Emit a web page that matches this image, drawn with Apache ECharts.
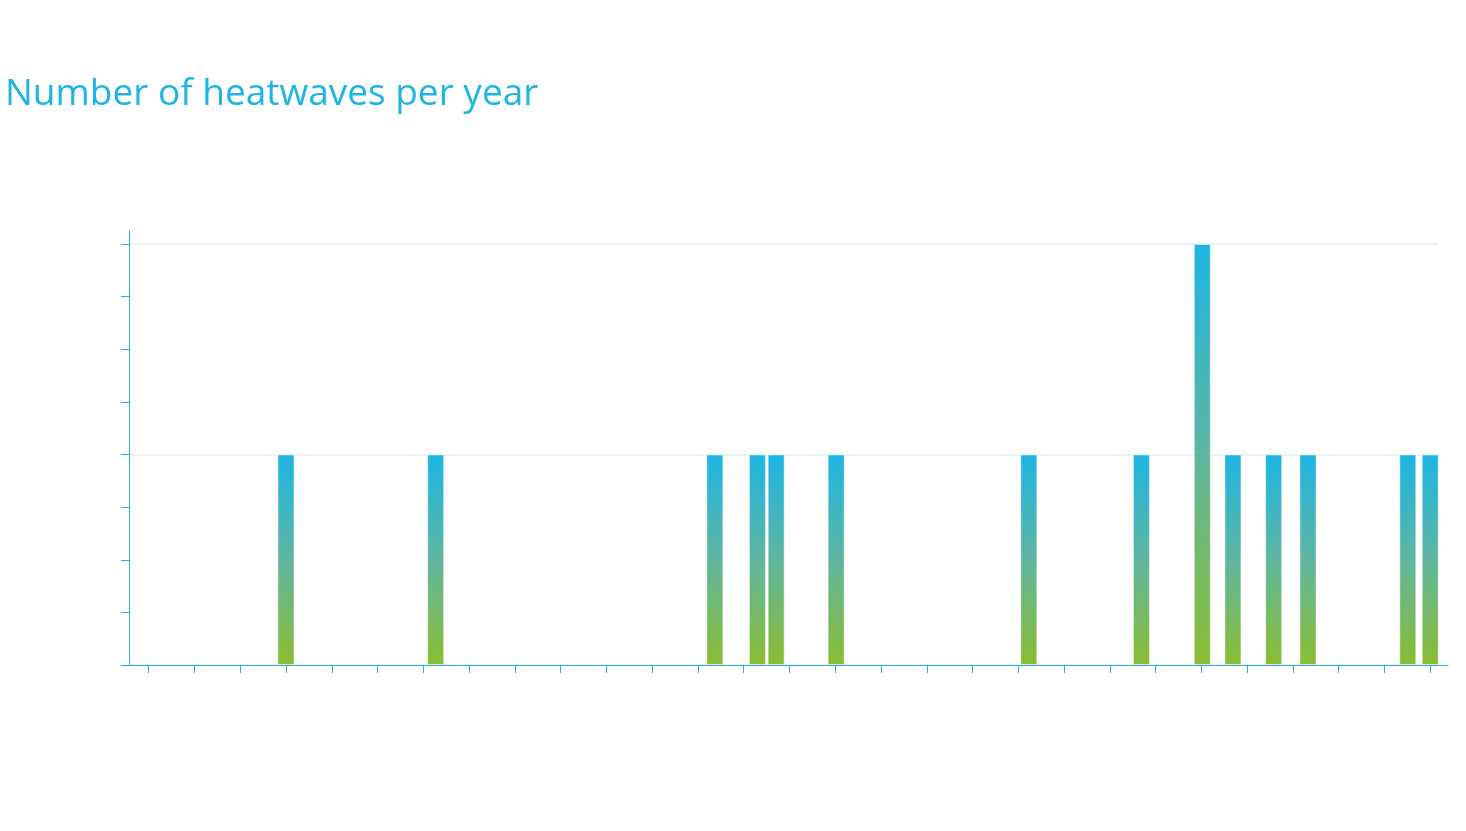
<!DOCTYPE html>
<html>
<head>
<meta charset="utf-8">
<script src="https://cdn.jsdelivr.net/npm/echarts@6/dist/echarts.min.js"></script>
<style>
html,body{margin:0;padding:0;background:#fff;}
#chart{width:1466px;height:831px;}
</style>
</head>
<body>
<div id="chart"></div>
<script>
// x positions in tick units (tick 0 .. tick 28)
var eventPositions = [3.0, 6.27, 12.37, 13.30, 13.71, 15.02, 19.23, 21.69, 23.02, 23.69, 24.58, 25.33, 27.51, 28.0];
var heatwaveCounts = [1, 1, 1, 1, 1, 1, 1, 1, 2, 1, 1, 1, 1, 1];
var xTicks = [0,1,2,3,4,5,6,7,8,9,10,11,12,13,14,15,16,17,18,19,20,21,22,23,24,25,26,27,28];

var data = eventPositions.map(function (x, i) { return [x, heatwaveCounts[i]]; });

var axisBlue = '#2aafd9';
var chart = echarts.init(document.getElementById('chart'));
chart.setOption({
  animation: false,
  title: {
    text: 'Number of heatwaves per year',
    left: 0,
    top: 71,
    textStyle: { color: '#1fb5e3', fontSize: 37, fontWeight: 'normal', fontFamily: 'Open Sans' }
  },
  grid: [
    { left: 129, right: 28, top: 244, bottom: 166 },
    { left: 129, right: 18, top: 231, bottom: 166 }
  ],
  xAxis: [
    {
      type: 'value', gridIndex: 0,
      min: -0.4304, max: 28.17,
      axisLine: { show: false, onZero: false },
      axisTick: { show: true, length: 8, customValues: xTicks, lineStyle: { color: axisBlue, width: 1 } },
      axisLabel: { show: false },
      splitLine: { show: false }
    },
    {
      type: 'value', gridIndex: 1, min: 0, max: 1, z: 5,
      axisLine: { show: true, onZero: false, lineStyle: { color: axisBlue, width: 1 } },
      axisTick: { show: false }, axisLabel: { show: false }, splitLine: { show: false }
    }
  ],
  yAxis: [
    {
      type: 'value', gridIndex: 0,
      min: 0, max: 2, interval: 1,
      axisLine: { show: false, onZero: false },
      axisTick: { show: true, length: 8, lineStyle: { color: axisBlue, width: 1 } },
      minorTick: { show: true, splitNumber: 4, length: 8, lineStyle: { color: axisBlue, width: 1 } },
      axisLabel: { show: false },
      splitLine: { show: true, lineStyle: { color: '#e3f1f5', width: 1.5 } },
      minorSplitLine: { show: false }
    },
    {
      type: 'value', gridIndex: 1, min: 0, max: 1, z: 5,
      axisLine: { show: true, onZero: false, lineStyle: { color: axisBlue, width: 1 } },
      axisTick: { show: false }, axisLabel: { show: false }, splitLine: { show: false }
    }
  ],
  series: [{
    type: 'bar',
    xAxisIndex: 0, yAxisIndex: 0,
    data: data,
    barWidth: 17,
    clip: false,
    itemStyle: {
      borderColor: 'rgba(255,255,255,0.45)',
      borderWidth: 1,
      color: new echarts.graphic.LinearGradient(0, 0, 0, 1, [
        { offset: 0, color: '#1db5e4' },
        { offset: 0.5, color: '#5fb6a0' },
        { offset: 1, color: '#8abd31' }
      ])
    }
  }]
});
</script>
</body>
</html>
